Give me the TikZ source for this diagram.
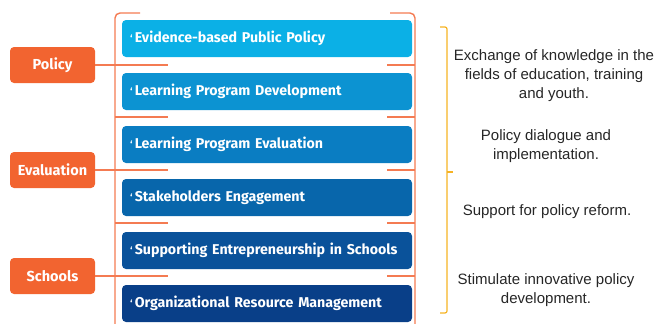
\documentclass[tikz,border=0pt]{standalone}
\usepackage{fontspec}
\setmainfont{Liberation Sans}
\newfontfamily\boxfont{Fira Sans}
\usepackage{tikz}
\usetikzlibrary{positioning}
\definecolor{orng}{HTML}{F26430}
\definecolor{orngline}{HTML}{F47B52}
\definecolor{brk}{HTML}{F6B324}
\definecolor{blueA}{HTML}{0BB0E6}
\definecolor{blueB}{HTML}{0C93D2}
\definecolor{blueC}{HTML}{0A7DC2}
\definecolor{blueD}{HTML}{0866AB}
\definecolor{blueE}{HTML}{0A529A}
\definecolor{blueF}{HTML}{093F88}
\definecolor{txtgray}{HTML}{262626}
\newcommand{\tck}{{\fontsize{10}{10}\selectfont ‘}\,}

\begin{document}
\begin{tikzpicture}[x = 1pt, y = -1pt,
  lbox/.style = {fill = orng, rounded corners = 4pt, minimum width = 85pt, minimum height = 36pt, inner sep = 0, text = white, font = \boxfont\bfseries\fontsize{14.5}{16}\selectfont},
  bbox/.style = {rounded corners = 4pt, minimum width = 290pt, minimum height = 37pt, inner xsep = 8pt, text width = 274pt, align = left, text = white, font = \boxfont\bfseries\fontsize{14.2}{16}\selectfont},
  link/.style = {orngline, line width = 1.4pt},
  note/.style = {align = center, text = txtgray, font = \fontsize{15}{19}\selectfont}]
 \useasboundingbox (0, 0) rectangle (657, 324);
  % blue boxes
  \node [bbox, fill = blueA] (b1) at (267, 38.5) {\tck Evidence-based Public Policy};
  \node [bbox, fill = blueB] (b2) at (267, 91.5) {\tck Learning Program Development};
  \node [bbox, fill = blueC] (b3) at (267, 144.5) {\tck Learning Program Evaluation};
  \node [bbox, fill = blueD] (b4) at (267, 197.5) {\tck Stakeholders Engagement};
  \node [bbox, fill = blueE] (b5) at (267, 250.5) {\tck Supporting Entrepreneurship in Schools};
  \node [bbox, fill = blueF] (b6) at (267, 303.5) {\tck Organizational Resource Management};
  % left frame
  \coordinate (ltop) at (140, 13);
  \coordinate (lbot) at (115, 324);
  \coordinate (g1) at (115, 65);
  \coordinate (g2) at (115, 117);
  \coordinate (g3) at (115, 170);
  \coordinate (g4) at (115, 223);
  \coordinate (g5) at (115, 276);
  \draw [link, rounded corners = 5pt] (ltop) -| (lbot);
  \draw [link] (g1) -- ++(53, 0);
  \draw [link] (g2) -- ++(53, 0);
  \draw [link] (g3) -- ++(53, 0);
  \draw [link] (g4) -- ++(53, 0);
  \draw [link] (g5) -- ++(53, 0);
  % right frame
  \coordinate (rtop) at (390, 13);
  \coordinate (rbot) at (415, 324);
  \coordinate (h1) at (415, 65);
  \coordinate (h2) at (415, 117);
  \coordinate (h3) at (415, 170);
  \coordinate (h4) at (415, 223);
  \coordinate (h5) at (415, 276);
  \draw [link, rounded corners = 5pt] (rtop) -| (rbot);
  \draw [link] (h1) -- ++(-28, 0);
  \draw [link] (h2) -- ++(-28, 0);
  \draw [link] (h3) -- ++(-28, 0);
  \draw [link] (h4) -- ++(-28, 0);
  \draw [link] (h5) -- ++(-28, 0);
  % orange labels
  \node [lbox] (pol) at (52.5, 65) {Policy};
  \node [lbox] (eval) at (52.5, 170) {Evaluation};
  \node [lbox] (sch) at (52.5, 276) {Schools};
  \draw [link] (pol) -- (g1);
  \draw [link] (eval) -- (g3);
  \draw [link] (sch) -- (g5);
  % bracket
  \coordinate (ktop) at (440, 27);
  \coordinate (kbot) at (440, 313);
  \coordinate (kmid) at (447, 172);
  \draw [brk, line width = 1.2pt, rounded corners = 2pt] (ktop) -- ++(7, 0) |- (kbot);
  \draw [brk, line width = 1.2pt] (kmid) -- ++(6, 0);
  % notes
  \node [note] (t1) at (554, 76) {Exchange of knowledge in the\\ fields of education, training\\ and youth.};
  \node [note] (t2) at (546, 146) {Policy dialogue and\\ implementation.};
  \node [note] (t3) at (547, 212) {Support for policy reform.};
  \node [note] (t4) at (546, 290) {Stimulate innovative policy\\ development.};
\end{tikzpicture}
\end{document}
